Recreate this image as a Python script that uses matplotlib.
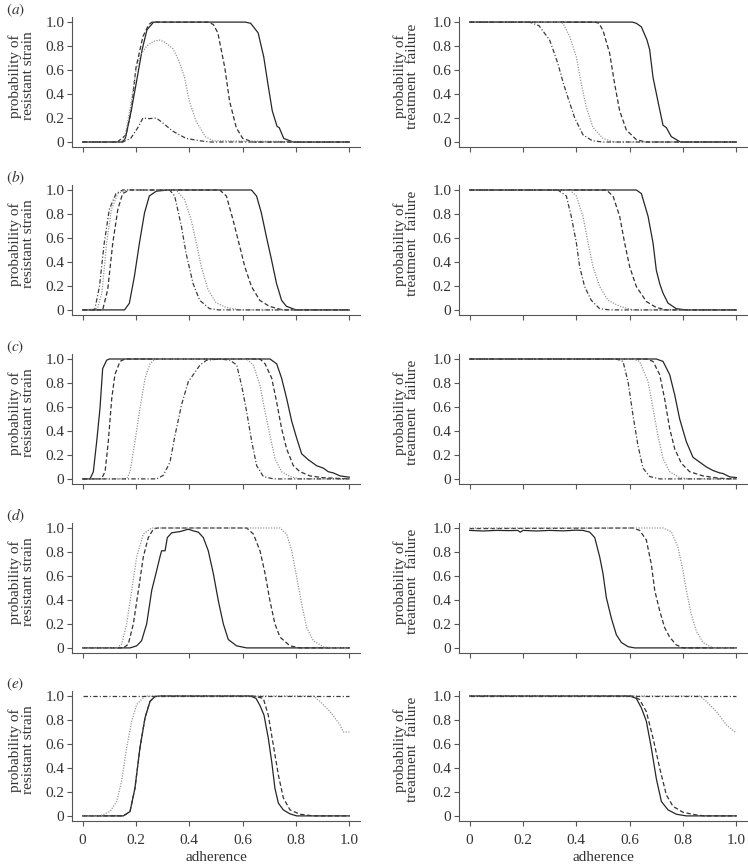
import matplotlib
matplotlib.use("Agg")
import matplotlib.pyplot as plt

# ----------------------------------------------------------------------------
# Data (adherence on x, probability on y)
# ----------------------------------------------------------------------------

# (a) resistant strain
a_res_solid_x = [0, 0.15, 0.16, 0.182, 0.2, 0.223, 0.241, 0.266, 0.61, 0.63, 0.658, 0.679, 0.695, 0.711, 0.729, 0.737, 0.754, 0.789, 1.0]
a_res_solid_y = [0, 0, 0.03, 0.26, 0.48, 0.77, 0.935, 1.0, 1.0, 0.99, 0.91, 0.71, 0.48, 0.26, 0.13, 0.12, 0.03, 0, 0]
a_res_dashed_x = [0, 0.13, 0.163, 0.182, 0.2, 0.226, 0.248, 0.26, 0.47, 0.49, 0.507, 0.533, 0.551, 0.576, 0.60, 0.64, 1.0]
a_res_dashed_y = [0, 0, 0.06, 0.26, 0.62, 0.88, 0.98, 1.0, 1.0, 0.98, 0.91, 0.62, 0.34, 0.12, 0.03, 0, 0]
a_res_dotted_x = [0, 0.14, 0.157, 0.18, 0.2, 0.215, 0.24, 0.265, 0.29, 0.31, 0.338, 0.36, 0.382, 0.40, 0.426, 0.46, 0.49, 1.0]
a_res_dotted_y = [0, 0, 0.03, 0.3, 0.6, 0.72, 0.8, 0.84, 0.85, 0.83, 0.78, 0.68, 0.54, 0.34, 0.17, 0.045, 0.01, 0]
a_res_dashdot_x = [0, 0.15, 0.18, 0.207, 0.226, 0.25, 0.276, 0.3, 0.338, 0.388, 0.44, 0.48, 1.0]
a_res_dashdot_y = [0, 0, 0.03, 0.12, 0.2, 0.195, 0.2, 0.16, 0.09, 0.03, 0.01, 0, 0]

# (a) treatment failure
a_fail_solid_x = [0, 0.61, 0.625, 0.644, 0.665, 0.675, 0.6875, 0.706, 0.725, 0.7375, 0.756, 0.79, 1.0]
a_fail_solid_y = [1, 1, 0.99, 0.96, 0.85, 0.77, 0.54, 0.34, 0.14, 0.12, 0.045, 0, 0]
a_fail_dashed_x = [0, 0.47, 0.485, 0.5, 0.525, 0.544, 0.5625, 0.5875, 0.625, 0.66, 1.0]
a_fail_dashed_y = [1, 1, 0.99, 0.93, 0.74, 0.48, 0.26, 0.1, 0.02, 0, 0]
a_fail_dotted_x = [0, 0.3375, 0.35, 0.375, 0.4, 0.419, 0.4375, 0.4625, 0.5, 0.54, 1.0]
a_fail_dotted_y = [1, 1, 0.99, 0.88, 0.71, 0.48, 0.29, 0.12, 0.03, 0, 0]
a_fail_dashdot_x = [0, 0.225, 0.26, 0.3, 0.33, 0.35, 0.37, 0.394, 0.425, 0.46, 0.5, 1.0]
a_fail_dashdot_y = [1, 1, 0.97, 0.85, 0.66, 0.5, 0.36, 0.2, 0.06, 0.01, 0, 0]

# (b) resistant strain
b_res_solid_x = [0, 0.157, 0.175, 0.194, 0.213, 0.232, 0.25, 0.276, 0.32, 0.633, 0.652, 0.67, 0.689, 0.708, 0.727, 0.746, 0.764, 0.80, 1.0]
b_res_solid_y = [0, 0, 0.055, 0.28, 0.56, 0.81, 0.95, 0.99, 1.0, 1.0, 0.95, 0.81, 0.61, 0.42, 0.22, 0.08, 0.03, 0, 0]
b_res_dashed_x = [0, 0.075, 0.094, 0.113, 0.132, 0.15, 0.175, 0.514, 0.539, 0.564, 0.589, 0.608, 0.633, 0.664, 0.70, 0.75, 1.0]
b_res_dashed_y = [0, 0, 0.17, 0.56, 0.84, 0.97, 1.0, 1.0, 0.95, 0.75, 0.53, 0.36, 0.195, 0.08, 0.03, 0, 0]
b_res_dotted_x = [0, 0.055, 0.072, 0.09, 0.108, 0.132, 0.165, 0.35, 0.382, 0.407, 0.426, 0.445, 0.47, 0.5, 0.539, 0.59, 1.0]
b_res_dotted_y = [0, 0.01, 0.14, 0.56, 0.84, 0.97, 1.0, 1.0, 0.92, 0.75, 0.56, 0.36, 0.17, 0.06, 0.02, 0, 0]
b_res_dashdot_x = [0, 0.045, 0.063, 0.081, 0.1, 0.125, 0.15, 0.326, 0.345, 0.37, 0.388, 0.414, 0.439, 0.476, 0.51, 1.0]
b_res_dashdot_y = [0, 0, 0.195, 0.56, 0.84, 0.97, 1.0, 1.0, 0.95, 0.70, 0.47, 0.22, 0.08, 0.01, 0, 0]

# (b) treatment failure
b_fail_solid_x = [0, 0.625, 0.644, 0.669, 0.6875, 0.7, 0.7125, 0.725, 0.744, 0.775, 0.8125, 1.0]
b_fail_solid_y = [1, 1, 0.97, 0.78, 0.56, 0.33, 0.22, 0.14, 0.056, 0.01, 0, 0]
b_fail_dashed_x = [0, 0.5125, 0.5375, 0.5625, 0.581, 0.6, 0.625, 0.6625, 0.7, 0.7375, 1.0]
b_fail_dashed_y = [1, 1, 0.95, 0.78, 0.56, 0.36, 0.195, 0.07, 0.02, 0, 0]
b_fail_dotted_x = [0, 0.375, 0.4, 0.425, 0.444, 0.4625, 0.4875, 0.519, 0.5625, 0.6125, 1.0]
b_fail_dotted_y = [1, 1, 0.95, 0.78, 0.56, 0.36, 0.195, 0.08, 0.03, 0, 0]
b_fail_dashdot_x = [0, 0.331, 0.3625, 0.381, 0.4, 0.4125, 0.431, 0.456, 0.4875, 0.525, 1.0]
b_fail_dashdot_y = [1, 1, 0.95, 0.78, 0.56, 0.36, 0.195, 0.08, 0.01, 0, 0]

# (c) resistant strain
c_res_solid_x = [0, 0.0275, 0.04, 0.0525, 0.065, 0.075, 0.09, 0.1, 0.7025, 0.7275, 0.746, 0.765, 0.784, 0.8025, 0.821, 0.846, 0.8775, 0.9025, 0.921, 0.94, 0.965, 1.0]
c_res_solid_y = [0, 0, 0.06, 0.31, 0.59, 0.92, 0.99, 1.0, 1.0, 0.96, 0.84, 0.67, 0.48, 0.34, 0.21, 0.16, 0.11, 0.09, 0.06, 0.05, 0.025, 0.014]
c_res_dashed_x = [0, 0.07, 0.084, 0.096, 0.109, 0.121, 0.14, 0.159, 0.665, 0.684, 0.709, 0.7275, 0.746, 0.765, 0.79, 0.815, 0.8525, 0.9025, 1.0]
c_res_dashed_y = [0, 0, 0.06, 0.31, 0.67, 0.87, 0.98, 1.0, 1.0, 0.96, 0.84, 0.64, 0.42, 0.25, 0.11, 0.06, 0.025, 0.01, 0]
c_res_dotted_x = [0, 0.165, 0.1775, 0.196, 0.215, 0.234, 0.2525, 0.271, 0.615, 0.64, 0.665, 0.684, 0.7025, 0.721, 0.746, 0.7775, 0.815, 1.0]
c_res_dotted_y = [0, 0, 0.06, 0.31, 0.59, 0.84, 0.96, 1.0, 1.0, 0.95, 0.78, 0.56, 0.36, 0.17, 0.06, 0.02, 0, 0]
c_res_dashdot_x = [0, 0.2775, 0.3025, 0.3275, 0.346, 0.371, 0.396, 0.415, 0.44, 0.465, 0.515, 0.5525, 0.5775, 0.596, 0.615, 0.634, 0.6525, 0.6775, 0.715, 1.0]
c_res_dashdot_y = [0, 0, 0.03, 0.14, 0.36, 0.62, 0.81, 0.87, 0.95, 0.99, 1.0, 0.99, 0.95, 0.78, 0.56, 0.31, 0.11, 0.02, 0, 0]

# (c) treatment failure
c_fail_solid_x = [0, 0.7, 0.725, 0.75, 0.769, 0.7875, 0.8125, 0.8375, 0.8625, 0.8875, 0.9125, 0.9375, 0.95, 0.975, 1.0]
c_fail_solid_y = [1, 1, 0.98, 0.87, 0.70, 0.50, 0.31, 0.18, 0.14, 0.10, 0.07, 0.05, 0.045, 0.017, 0.011]
c_fail_dashed_x = [0, 0.6625, 0.6875, 0.7125, 0.731, 0.75, 0.769, 0.794, 0.825, 0.875, 0.9375, 1.0]
c_fail_dashed_y = [1, 1, 0.98, 0.87, 0.67, 0.42, 0.25, 0.13, 0.06, 0.025, 0.005, 0]
c_fail_dotted_x = [0, 0.6125, 0.6375, 0.669, 0.6875, 0.706, 0.725, 0.75, 0.7875, 0.82, 1.0]
c_fail_dotted_y = [1, 1, 0.98, 0.81, 0.59, 0.36, 0.17, 0.06, 0.01, 0, 0]
c_fail_dashdot_x = [0, 0.55, 0.575, 0.594, 0.6125, 0.631, 0.65, 0.675, 0.7125, 1.0]
c_fail_dashdot_y = [1, 1, 0.98, 0.81, 0.53, 0.28, 0.09, 0.02, 0, 0]

# (d) resistant strain
d_res_solid_x = [0, 0.1775, 0.2025, 0.221, 0.24, 0.259, 0.2775, 0.29, 0.296, 0.309, 0.3175, 0.334, 0.365, 0.396, 0.415, 0.434, 0.4525, 0.471, 0.49, 0.509, 0.5275, 0.546, 0.5775, 0.615, 1.0]
d_res_solid_y = [0, 0, 0.017, 0.06, 0.2, 0.48, 0.645, 0.76, 0.81, 0.81, 0.92, 0.96, 0.97, 0.99, 0.976, 0.965, 0.92, 0.81, 0.62, 0.39, 0.2, 0.07, 0.017, 0, 0]
d_res_dashed_x = [0, 0.1525, 0.171, 0.19, 0.209, 0.2275, 0.246, 0.265, 0.28, 0.615, 0.64, 0.665, 0.684, 0.7025, 0.721, 0.74, 0.7775, 0.815, 1.0]
d_res_dashed_y = [0, 0, 0.03, 0.2, 0.48, 0.76, 0.92, 0.99, 1.0, 1.0, 0.95, 0.81, 0.62, 0.39, 0.2, 0.09, 0.017, 0, 0]
d_res_dotted_x = [0, 0.1275, 0.146, 0.165, 0.184, 0.2025, 0.2275, 0.259, 0.74, 0.765, 0.784, 0.8025, 0.821, 0.84, 0.865, 0.9025, 0.94, 1.0]
d_res_dotted_y = [0, 0, 0.03, 0.2, 0.48, 0.76, 0.95, 1.0, 1.0, 0.95, 0.81, 0.59, 0.37, 0.17, 0.06, 0.01, 0, 0]

# (d) treatment failure
d_fail_solid_x = [0, 0.05, 0.1, 0.15, 0.18, 0.19, 0.2, 0.25, 0.3, 0.35, 0.4, 0.425, 0.45, 0.469, 0.4875, 0.5, 0.5125, 0.531, 0.55, 0.569, 0.594, 0.619, 1.0]
d_fail_solid_y = [0.98, 0.975, 0.98, 0.978, 0.98, 0.965, 0.98, 0.975, 0.98, 0.976, 0.982, 0.98, 0.966, 0.92, 0.76, 0.62, 0.42, 0.25, 0.11, 0.045, 0.01, 0, 0]
d_fail_dashed_x = [0, 0.6125, 0.6375, 0.6625, 0.681, 0.694, 0.7125, 0.731, 0.75, 0.775, 0.8, 1.0]
d_fail_dashed_y = [0.995, 1.0, 0.98, 0.9, 0.70, 0.48, 0.31, 0.17, 0.09, 0.025, 0, 0]
d_fail_dotted_x = [0, 0.725, 0.756, 0.781, 0.8, 0.8125, 0.831, 0.85, 0.875, 0.9125, 1.0]
d_fail_dotted_y = [1, 1, 0.97, 0.84, 0.645, 0.48, 0.28, 0.14, 0.045, 0, 0]

# (e) resistant strain
e_res_solid_x = [0, 0.1525, 0.1775, 0.196, 0.215, 0.234, 0.2525, 0.271, 0.29, 0.63, 0.65, 0.665, 0.68, 0.696, 0.709, 0.721, 0.734, 0.7525, 0.7775, 0.8025, 1.0]
e_res_solid_y = [0, 0, 0.036, 0.23, 0.57, 0.82, 0.955, 0.995, 1.0, 1.0, 0.98, 0.92, 0.84, 0.65, 0.45, 0.23, 0.106, 0.05, 0.017, 0, 0]
e_res_dashed_x = [0, 0.1525, 0.1775, 0.196, 0.215, 0.234, 0.2525, 0.271, 0.29, 0.64, 0.6775, 0.696, 0.715, 0.734, 0.7525, 0.7775, 0.815, 0.865, 1.0]
e_res_dashed_y = [0, 0, 0.036, 0.23, 0.57, 0.82, 0.955, 0.995, 1.0, 1.0, 0.98, 0.84, 0.59, 0.34, 0.15, 0.05, 0.014, 0, 0]
e_res_dotted_x = [0, 0.065, 0.1025, 0.1275, 0.146, 0.165, 0.184, 0.2025, 0.234, 0.865, 0.89, 0.9275, 0.965, 0.9775, 1.0]
e_res_dotted_y = [0, 0, 0.036, 0.12, 0.29, 0.57, 0.79, 0.93, 1.0, 1.0, 0.955, 0.87, 0.76, 0.70, 0.70]
e_res_dashdot_x = [0, 1.0]
e_res_dashdot_y = [1, 1]

# (e) treatment failure
e_fail_solid_x = [0, 0.6, 0.625, 0.644, 0.6625, 0.681, 0.7, 0.719, 0.744, 0.775, 0.8125, 1.0]
e_fail_solid_y = [1, 1, 0.98, 0.9, 0.79, 0.57, 0.31, 0.12, 0.05, 0.014, 0, 0]
e_fail_dashed_x = [0, 0.61, 0.6375, 0.6625, 0.6875, 0.7125, 0.7375, 0.7625, 0.8, 0.85, 0.88, 1.0]
e_fail_dashed_y = [1, 1, 0.97, 0.87, 0.65, 0.40, 0.175, 0.08, 0.03, 0.008, 0, 0]
e_fail_dotted_x = [0, 0.8625, 0.8875, 0.925, 0.9625, 1.0]
e_fail_dotted_y = [1, 1, 0.955, 0.87, 0.76, 0.69]
e_fail_dashdot_x = [0, 1.0]
e_fail_dashdot_y = [1, 1]

PANEL_LABELS = ["a", "b", "c", "d", "e"]
Y_TICKS = [0, 0.2, 0.4, 0.6, 0.8, 1.0]
Y_TICK_LABELS = ["0", "0.2", "0.4", "0.6", "0.8", "1.0"]
X_TICKS = [0, 0.2, 0.4, 0.6, 0.8, 1.0]
X_TICK_LABELS = ["0", "0.2", "0.4", "0.6", "0.8", "1.0"]
RES_LABEL = "probability of\nresistant strain"
FAIL_LABEL = "probability of\ntreatment  failure"

# ----------------------------------------------------------------------------
# Styling
# ----------------------------------------------------------------------------

plt.rcParams["font.family"] = ["Liberation Serif", "DejaVu Serif"]
plt.rcParams["mathtext.fontset"] = "stix"
plt.rcParams["lines.scale_dashes"] = False

STYLES = {
    "solid": dict(color="#262626", linestyle="-", linewidth=0.9),
    "dashed": dict(color="#333333", linestyle=(0, (3.2, 1.8)), linewidth=0.9),
    "dotted": dict(color="#8c8c8c", linestyle=(0, (0.8, 1.1)), linewidth=0.9),
    "dashdot": dict(color="#3c3c3c", linestyle=(0, (3.2, 1.5, 0.8, 1.5)), linewidth=0.9),
}

AXIS_GREY = "#555555"
TEXT_GREY = "#333333"

panels = [
    ([("solid", a_res_solid_x, a_res_solid_y), ("dashed", a_res_dashed_x, a_res_dashed_y),
      ("dotted", a_res_dotted_x, a_res_dotted_y), ("dashdot", a_res_dashdot_x, a_res_dashdot_y)],
     [("solid", a_fail_solid_x, a_fail_solid_y), ("dashed", a_fail_dashed_x, a_fail_dashed_y),
      ("dotted", a_fail_dotted_x, a_fail_dotted_y), ("dashdot", a_fail_dashdot_x, a_fail_dashdot_y)]),
    ([("solid", b_res_solid_x, b_res_solid_y), ("dashed", b_res_dashed_x, b_res_dashed_y),
      ("dotted", b_res_dotted_x, b_res_dotted_y), ("dashdot", b_res_dashdot_x, b_res_dashdot_y)],
     [("solid", b_fail_solid_x, b_fail_solid_y), ("dashed", b_fail_dashed_x, b_fail_dashed_y),
      ("dotted", b_fail_dotted_x, b_fail_dotted_y), ("dashdot", b_fail_dashdot_x, b_fail_dashdot_y)]),
    ([("solid", c_res_solid_x, c_res_solid_y), ("dashed", c_res_dashed_x, c_res_dashed_y),
      ("dotted", c_res_dotted_x, c_res_dotted_y), ("dashdot", c_res_dashdot_x, c_res_dashdot_y)],
     [("solid", c_fail_solid_x, c_fail_solid_y), ("dashed", c_fail_dashed_x, c_fail_dashed_y),
      ("dotted", c_fail_dotted_x, c_fail_dotted_y), ("dashdot", c_fail_dashdot_x, c_fail_dashdot_y)]),
    ([("solid", d_res_solid_x, d_res_solid_y), ("dashed", d_res_dashed_x, d_res_dashed_y),
      ("dotted", d_res_dotted_x, d_res_dotted_y)],
     [("solid", d_fail_solid_x, d_fail_solid_y), ("dashed", d_fail_dashed_x, d_fail_dashed_y),
      ("dotted", d_fail_dotted_x, d_fail_dotted_y)]),
    ([("solid", e_res_solid_x, e_res_solid_y), ("dashed", e_res_dashed_x, e_res_dashed_y),
      ("dotted", e_res_dotted_x, e_res_dotted_y), ("dashdot", e_res_dashdot_x, e_res_dashdot_y)],
     [("solid", e_fail_solid_x, e_fail_solid_y), ("dashed", e_fail_dashed_x, e_fail_dashed_y),
      ("dotted", e_fail_dotted_x, e_fail_dotted_y), ("dashdot", e_fail_dashdot_x, e_fail_dashdot_y)]),
]

# ----------------------------------------------------------------------------
# Layout (figure fractions measured from the reference)
# ----------------------------------------------------------------------------

W, H = 748, 864
fig = plt.figure(figsize=(W / 100, H / 100), dpi=100)

col_left = [72 / W, 459 / W]
ax_w = 288 / W
row_top_px = [17.3, 185.2, 354.2, 523.2, 691.2]
ax_h_px = 129.5


def style_axis(ax, show_xlabels):
    ax.set_xlim(-0.04, 1.04)
    ax.set_ylim(-0.04, 1.04)
    for side in ("top", "right"):
        ax.spines[side].set_visible(False)
    for side in ("left", "bottom"):
        ax.spines[side].set_color(AXIS_GREY)
        ax.spines[side].set_linewidth(0.8)
    ax.set_yticks(Y_TICKS)
    ax.set_yticklabels(Y_TICK_LABELS)
    ax.set_xticks(X_TICKS)
    ax.set_xticklabels(X_TICK_LABELS if show_xlabels else [])
    ax.tick_params(direction="out", length=3.5, width=0.8, color=AXIS_GREY,
                   labelcolor=TEXT_GREY, labelsize=11)
    ax.tick_params(axis="y", pad=2)
    ax.tick_params(axis="x", pad=6)


for r, (res_curves, fail_curves) in enumerate(panels):
    bottom = 1 - (row_top_px[r] + ax_h_px) / H
    last = r == len(panels) - 1
    for c, curves in enumerate((res_curves, fail_curves)):
        ax = fig.add_axes([col_left[c], bottom, ax_w, ax_h_px / H])
        for kind, xs, ys in curves:
            ax.plot(xs, ys, **STYLES[kind])
        style_axis(ax, last)
        if c == 0:
            ax.text(-0.175, 0.547, RES_LABEL, transform=ax.transAxes, rotation=90,
                    ha="center", va="center", multialignment="center",
                    fontsize=11, color=TEXT_GREY, linespacing=0.95)
            ax.text(-0.229, 1.057, "$(%s)$" % PANEL_LABELS[r], transform=ax.transAxes,
                    ha="left", va="center", fontsize=11, color=TEXT_GREY)
        else:
            ax.text(-0.184, 0.547, FAIL_LABEL, transform=ax.transAxes, rotation=90,
                    ha="center", va="center", multialignment="center",
                    fontsize=11, color=TEXT_GREY, linespacing=0.95)
        if last:
            ax.set_xlabel("adherence", fontsize=11, color=TEXT_GREY, labelpad=3)

fig.savefig("out.png", dpi=100)
